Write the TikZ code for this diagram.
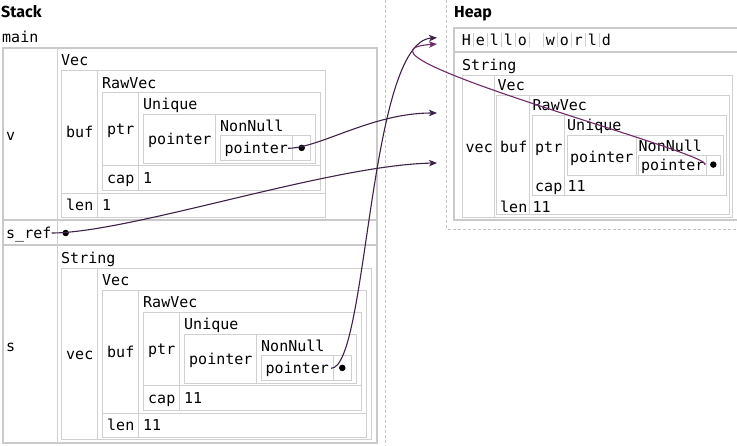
\documentclass[tikz,border=0pt]{standalone}
\usepackage{fontspec}
\usetikzlibrary{arrows.meta}
\newfontfamily\monof{DejaVu Sans Mono}
\newfontfamily\headf{Fira Sans}
\definecolor{boxgray}{HTML}{CACACA}
\definecolor{thingray}{HTML}{D0D0D0}
\definecolor{dashgray}{HTML}{C4C4C4}
\definecolor{arrowdark}{HTML}{3E2348}
\definecolor{arrowlight}{HTML}{6E2C6A}
\tikzset{
  lbl/.style={anchor=west, inner sep=0pt, text height=11pt, text depth=3pt, yshift=-1.5pt, font=\monof\fontsize{15}{18}\selectfont},
  hchar/.style={anchor=center, inner sep=0pt, text height=11pt, text depth=3pt, yshift=-1.5pt, font=\monof\fontsize{15}{18}\selectfont},
  head/.style={anchor=base west, inner sep=0pt, font=\headf\bfseries\fontsize{16}{19}\selectfont},
  thickbox/.style={draw=boxgray, line width=2pt},
  thinbox/.style={draw=thingray, line width=1pt},
  ptrline/.style={draw=arrowdark, line width=1.1pt, -{Stealth[length=8pt,width=6.5pt,inset=2pt]}},
  ptrlight/.style={ptrline, draw=arrowlight},
  ptrdot/.style={circle, fill=black, inner sep=0pt, minimum size=6.5pt},
  dashedge/.style={draw=dashgray, dash pattern=on 3pt off 2pt, line width=0.8pt}
}
\begin{document}
\begin{tikzpicture}[x=1pt,y=-1pt]
\useasboundingbox (0,0) rectangle (737,446);
\clip (0,0) rectangle (737,446);
\fill[white] (0,0) rectangle (737,446);

% region borders
\draw[dashedge] (385.7,-5) -- (385.7,451);
\draw[dashedge] (446.7,-5) -- (446.7,229) -- (745,229);

% ---------------- STACK ----------------
\node[head] (stackh) at (1,17.5) {Stack};
\node[lbl] (mainl) at (2,36.7) {main};

\draw[thickbox] (3,48) rectangle (376.5,443);
\draw[thickbox] (3,220.5) -- (376.5,220.5);
\draw[thickbox] (3,245) -- (376.5,245);
\draw[thinbox] (57,48) -- (57,443);

\node[lbl] (vl) at (6,135) {v};
\node[lbl] (srefl) at (6,233) {s\_ref};
\node[lbl] (sl) at (6,346) {s};

% v : Vec
\node[lbl] (v1) at (61,60) {Vec};
\draw[thinbox] (61.7,70.7) rectangle (325.3,217.3);
\draw[thinbox] (97.3,70.7) -- (97.3,217.3);
\draw[thinbox] (61.7,193.3) -- (325.3,193.3);
\node[lbl] (v2) at (66,131.7) {buf};
\node[lbl] (v3) at (66,205) {len};
\node[lbl] (v4) at (102,205) {1};
\node[lbl] (v5) at (102,82.7) {RawVec};
\draw[thinbox] (102,92.3) rectangle (320.7,190.7);
\draw[thinbox] (138.3,92.3) -- (138.3,190.7);
\draw[thinbox] (102,166) -- (320.7,166);
\node[lbl] (v6) at (107,129.3) {ptr};
\node[lbl] (v7) at (107,178.3) {cap};
\node[lbl] (v8) at (143,178.3) {1};
\node[lbl] (v9) at (143,104.3) {Unique};
\draw[thinbox] (143.3,114.7) rectangle (315.3,163.3);
\draw[thinbox] (215.3,114.7) -- (215.3,163.3);
\node[lbl] (v10) at (148,139.3) {pointer};
\node[lbl] (v11) at (220,126) {NonNull};
\draw[thinbox] (220.3,136) rectangle (310.7,160.7);
\draw[thinbox] (292.7,136) -- (292.7,160.7);
\node[lbl] (vptr) at (224.5,148.3) {pointer};
\node[ptrdot] (vdot) at (301.7,147.9) {};

% s : String
\node[lbl] (s1) at (61,258.3) {String};
\draw[thinbox] (61.7,269) rectangle (371.7,440);
\draw[thinbox] (97.3,269) -- (97.3,440);
\node[lbl] (s2) at (66,354.3) {vec};
\node[lbl] (s3) at (102,280) {Vec};
\draw[thinbox] (102,290.7) rectangle (366.7,437.3);
\draw[thinbox] (138.3,290.7) -- (138.3,437.3);
\draw[thinbox] (102,413.3) -- (366.7,413.3);
\node[lbl] (s4) at (107,351.7) {buf};
\node[lbl] (s5) at (107,425) {len};
\node[lbl] (s6) at (143,425) {11};
\node[lbl] (s7) at (143,302.3) {RawVec};
\draw[thinbox] (143.3,312.7) rectangle (361.7,410.7);
\draw[thinbox] (179.3,312.7) -- (179.3,410.7);
\draw[thinbox] (143.3,386) -- (361.7,386);
\node[lbl] (s8) at (148,349.3) {ptr};
\node[lbl] (s9) at (148,398.3) {cap};
\node[lbl] (s10) at (184,398.3) {11};
\node[lbl] (s11) at (184,324.3) {Unique};
\draw[thinbox] (184.3,334.7) rectangle (356.7,383.3);
\draw[thinbox] (256.7,334.7) -- (256.7,383.3);
\node[lbl] (s12) at (189,359.3) {pointer};
\node[lbl] (s13) at (261,346) {NonNull};
\draw[thinbox] (261,356) rectangle (351.7,380.7);
\draw[thinbox] (333.3,356) -- (333.3,380.7);
\node[lbl] (sptr) at (265.5,368.3) {pointer};
\node[ptrdot] (sdot) at (342.3,367.9) {};

\node[ptrdot] (srefdot) at (65.7,233) {};

% ---------------- HEAP ----------------
\node[head] (heaph) at (454,17.5) {Heap};
\draw[thickbox] (454,28.3) rectangle (745,220);
\draw[thickbox] (454,52.3) -- (745,52.3);

\foreach \c [count=\i from 0] in {H,e,l,l,o,{},w,o,r,l,d}{
  \node[hchar] (hc\i) at (466.5+14*\i,40.5) {\c};
}
\foreach \i in {0,...,9}{
  \draw[thinbox] (473.5+14*\i,33) -- (473.5+14*\i,47.5);
}

\node[lbl] (h1) at (462,65) {String};
\draw[thinbox] (462.3,76) rectangle (732.7,217.3);
\draw[thinbox] (494.3,76) -- (494.3,217.3);
\node[lbl] (h2) at (465.5,146.7) {vec};
\node[lbl] (h3) at (497.5,85) {Vec};
\draw[thinbox] (496.7,95.7) rectangle (729.7,215);
\draw[thinbox] (529.3,95.7) -- (529.3,215);
\node[lbl] (h4) at (500,146.7) {buf};
\node[lbl] (h5) at (500,206.7) {len};
\node[lbl] (h6) at (532.5,206.7) {11};
\node[lbl] (h7) at (532.5,105) {RawVec};
\draw[thinbox] (532.3,115.7) rectangle (726.3,196);
\draw[thinbox] (564.3,115.7) -- (564.3,196);
\node[lbl] (h8) at (535,146.7) {ptr};
\node[lbl] (h9) at (535,185.7) {cap};
\node[lbl] (h10) at (567.5,185.7) {11};
\node[lbl] (h11) at (567,125) {Unique};
\draw[thinbox] (567.3,135.7) rectangle (723.7,176);
\draw[thinbox] (636,135.7) -- (636,176);
\node[lbl] (h12) at (570,156.7) {pointer};
\node[lbl] (h13) at (638.5,145.7) {NonNull};
\draw[thinbox] (638.3,155.7) rectangle (720.3,175.7);
\draw[thinbox] (706.3,155.7) -- (706.3,175.7);
\node[lbl] (hptr) at (641,165) {pointer};
\node[ptrdot] (hdot) at (713.3,164.6) {};

% ---------------- POINTERS ----------------
\coordinate (tgtA) at (437,37.7);
\coordinate (tgtB) at (437,44);
\coordinate (tgtC) at (437,113);
\coordinate (tgtD) at (437,163);

\draw[ptrline] ([yshift=1.5pt]vptr.east) .. controls (320,148) and (372,113) .. (tgtC);
\draw[ptrline] ([yshift=1.5pt]srefl.east) .. controls (130,233) and (330,165) .. (tgtD);
\draw[ptrline] ([xshift=2pt,yshift=1.5pt]sptr.east) .. controls (368,368) and (368,42) .. (tgtA);
\draw[ptrlight] ([yshift=1.5pt]hptr.east) .. controls (722,155) and (322,52) .. (tgtB);
\end{tikzpicture}
\end{document}
